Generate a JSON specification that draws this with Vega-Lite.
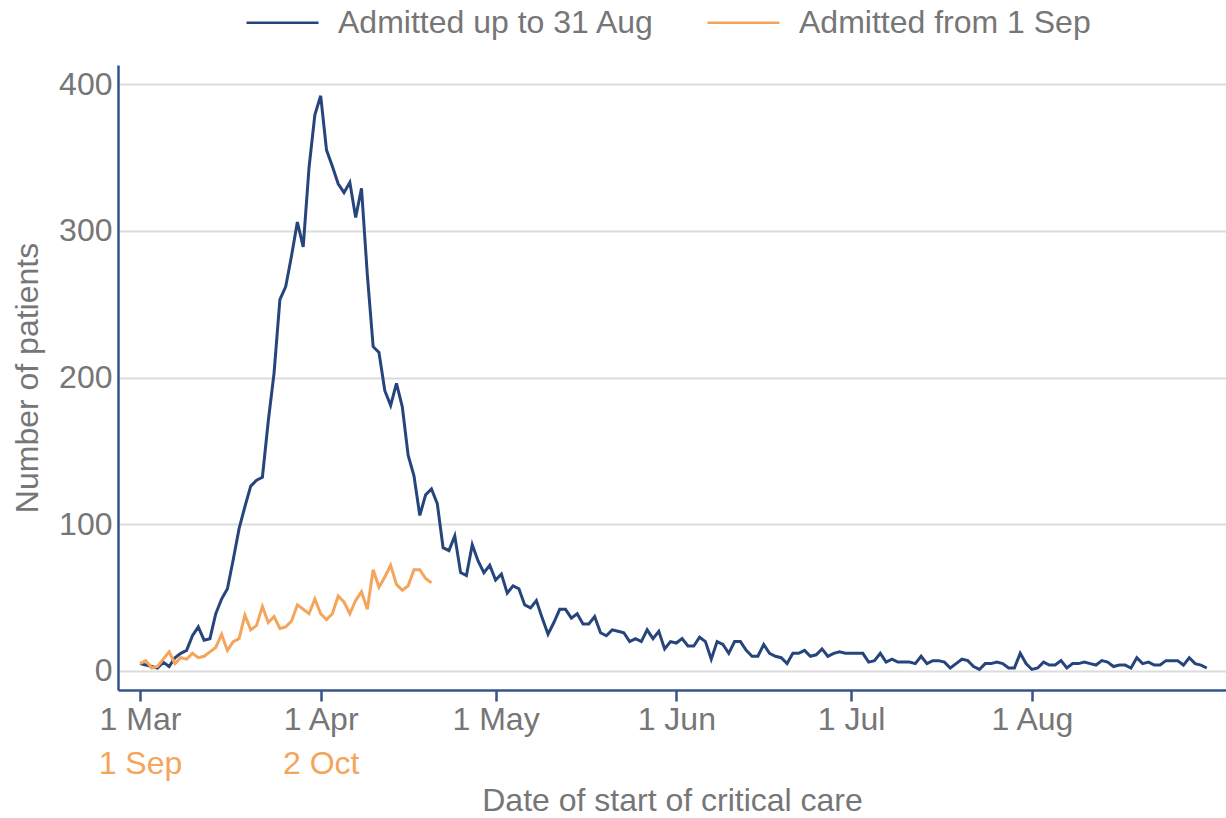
{
  "$schema": "https://vega.github.io/schema/vega-lite/v6.json",
  "description": "Daily critical care admissions, spring wave vs autumn wave",
  "autosize": "none",
  "width": 1108,
  "height": 625,
  "padding": {"left": 118, "top": 65, "right": 0, "bottom": 128},
  "background": "white",
  "config": {
    "font": "Liberation Sans",
    "view": {"stroke": null},
    "axis": {"labelFontSize": 32, "titleFontSize": 32, "labelColor": "#767676", "titleColor": "#767676", "titleFontWeight": "normal"}
  },
  "datasets": {
    "upTo31Aug": [
      {"day": 0, "patients": 5}, {"day": 1, "patients": 4}, {"day": 2, "patients": 3}, {"day": 3, "patients": 2}, {"day": 4, "patients": 6},
      {"day": 5, "patients": 3}, {"day": 6, "patients": 9}, {"day": 7, "patients": 12}, {"day": 8, "patients": 14}, {"day": 9, "patients": 24},
      {"day": 10, "patients": 30}, {"day": 11, "patients": 21}, {"day": 12, "patients": 22}, {"day": 13, "patients": 39}, {"day": 14, "patients": 49},
      {"day": 15, "patients": 56}, {"day": 16, "patients": 76}, {"day": 17, "patients": 97}, {"day": 18, "patients": 112}, {"day": 19, "patients": 126},
      {"day": 20, "patients": 130}, {"day": 21, "patients": 132}, {"day": 22, "patients": 170}, {"day": 23, "patients": 203}, {"day": 24, "patients": 253},
      {"day": 25, "patients": 262}, {"day": 26, "patients": 283}, {"day": 27, "patients": 306}, {"day": 28, "patients": 289}, {"day": 29, "patients": 343},
      {"day": 30, "patients": 379}, {"day": 31, "patients": 392}, {"day": 32, "patients": 355}, {"day": 33, "patients": 344}, {"day": 34, "patients": 332},
      {"day": 35, "patients": 326}, {"day": 36, "patients": 333}, {"day": 37, "patients": 309}, {"day": 38, "patients": 329}, {"day": 39, "patients": 270},
      {"day": 40, "patients": 221}, {"day": 41, "patients": 217}, {"day": 42, "patients": 191}, {"day": 43, "patients": 181}, {"day": 44, "patients": 196},
      {"day": 45, "patients": 180}, {"day": 46, "patients": 147}, {"day": 47, "patients": 133}, {"day": 48, "patients": 106}, {"day": 49, "patients": 120},
      {"day": 50, "patients": 124}, {"day": 51, "patients": 114}, {"day": 52, "patients": 84}, {"day": 53, "patients": 82}, {"day": 54, "patients": 92},
      {"day": 55, "patients": 67}, {"day": 56, "patients": 65}, {"day": 57, "patients": 86}, {"day": 58, "patients": 75}, {"day": 59, "patients": 67},
      {"day": 60, "patients": 72}, {"day": 61, "patients": 62}, {"day": 62, "patients": 66}, {"day": 63, "patients": 53}, {"day": 64, "patients": 58},
      {"day": 65, "patients": 56}, {"day": 66, "patients": 45}, {"day": 67, "patients": 43}, {"day": 68, "patients": 48}, {"day": 69, "patients": 36},
      {"day": 70, "patients": 25}, {"day": 71, "patients": 33}, {"day": 72, "patients": 42}, {"day": 73, "patients": 42}, {"day": 74, "patients": 36},
      {"day": 75, "patients": 39}, {"day": 76, "patients": 32}, {"day": 77, "patients": 32}, {"day": 78, "patients": 37}, {"day": 79, "patients": 26},
      {"day": 80, "patients": 24}, {"day": 81, "patients": 28}, {"day": 82, "patients": 27}, {"day": 83, "patients": 26}, {"day": 84, "patients": 20},
      {"day": 85, "patients": 22}, {"day": 86, "patients": 20}, {"day": 87, "patients": 28}, {"day": 88, "patients": 22}, {"day": 89, "patients": 27},
      {"day": 90, "patients": 15}, {"day": 91, "patients": 20}, {"day": 92, "patients": 19}, {"day": 93, "patients": 22}, {"day": 94, "patients": 17},
      {"day": 95, "patients": 17}, {"day": 96, "patients": 23}, {"day": 97, "patients": 20}, {"day": 98, "patients": 8}, {"day": 99, "patients": 20},
      {"day": 100, "patients": 18}, {"day": 101, "patients": 12}, {"day": 102, "patients": 20}, {"day": 103, "patients": 20}, {"day": 104, "patients": 14},
      {"day": 105, "patients": 10}, {"day": 106, "patients": 10}, {"day": 107, "patients": 18}, {"day": 108, "patients": 12}, {"day": 109, "patients": 10},
      {"day": 110, "patients": 9}, {"day": 111, "patients": 5}, {"day": 112, "patients": 12}, {"day": 113, "patients": 12}, {"day": 114, "patients": 14},
      {"day": 115, "patients": 10}, {"day": 116, "patients": 11}, {"day": 117, "patients": 15}, {"day": 118, "patients": 10}, {"day": 119, "patients": 12},
      {"day": 120, "patients": 13}, {"day": 121, "patients": 12}, {"day": 122, "patients": 12}, {"day": 123, "patients": 12}, {"day": 124, "patients": 12},
      {"day": 125, "patients": 6}, {"day": 126, "patients": 7}, {"day": 127, "patients": 12}, {"day": 128, "patients": 6}, {"day": 129, "patients": 8},
      {"day": 130, "patients": 6}, {"day": 131, "patients": 6}, {"day": 132, "patients": 6}, {"day": 133, "patients": 5}, {"day": 134, "patients": 10},
      {"day": 135, "patients": 5}, {"day": 136, "patients": 7}, {"day": 137, "patients": 7}, {"day": 138, "patients": 6}, {"day": 139, "patients": 2},
      {"day": 140, "patients": 5}, {"day": 141, "patients": 8}, {"day": 142, "patients": 7}, {"day": 143, "patients": 3}, {"day": 144, "patients": 1},
      {"day": 145, "patients": 5}, {"day": 146, "patients": 5}, {"day": 147, "patients": 6}, {"day": 148, "patients": 5}, {"day": 149, "patients": 2},
      {"day": 150, "patients": 2}, {"day": 151, "patients": 12}, {"day": 152, "patients": 5}, {"day": 153, "patients": 1}, {"day": 154, "patients": 2},
      {"day": 155, "patients": 6}, {"day": 156, "patients": 4}, {"day": 157, "patients": 4}, {"day": 158, "patients": 7}, {"day": 159, "patients": 2},
      {"day": 160, "patients": 5}, {"day": 161, "patients": 5}, {"day": 162, "patients": 6}, {"day": 163, "patients": 5}, {"day": 164, "patients": 4},
      {"day": 165, "patients": 7}, {"day": 166, "patients": 6}, {"day": 167, "patients": 3}, {"day": 168, "patients": 4}, {"day": 169, "patients": 4},
      {"day": 170, "patients": 2}, {"day": 171, "patients": 9}, {"day": 172, "patients": 5}, {"day": 173, "patients": 6}, {"day": 174, "patients": 4},
      {"day": 175, "patients": 4}, {"day": 176, "patients": 7}, {"day": 177, "patients": 7}, {"day": 178, "patients": 7}, {"day": 179, "patients": 4},
      {"day": 180, "patients": 9}, {"day": 181, "patients": 5}, {"day": 182, "patients": 4}, {"day": 183, "patients": 2}
    ],
    "from1Sep": [
      {"day": 0, "patients": 5}, {"day": 1, "patients": 7}, {"day": 2, "patients": 2}, {"day": 3, "patients": 3}, {"day": 4, "patients": 8},
      {"day": 5, "patients": 13}, {"day": 6, "patients": 5}, {"day": 7, "patients": 9}, {"day": 8, "patients": 8}, {"day": 9, "patients": 12},
      {"day": 10, "patients": 9}, {"day": 11, "patients": 10}, {"day": 12, "patients": 13}, {"day": 13, "patients": 16}, {"day": 14, "patients": 25},
      {"day": 15, "patients": 14}, {"day": 16, "patients": 20}, {"day": 17, "patients": 22}, {"day": 18, "patients": 38}, {"day": 19, "patients": 28},
      {"day": 20, "patients": 31}, {"day": 21, "patients": 44}, {"day": 22, "patients": 33}, {"day": 23, "patients": 37}, {"day": 24, "patients": 29},
      {"day": 25, "patients": 30}, {"day": 26, "patients": 34}, {"day": 27, "patients": 45}, {"day": 28, "patients": 42}, {"day": 29, "patients": 39},
      {"day": 30, "patients": 49}, {"day": 31, "patients": 39}, {"day": 32, "patients": 35}, {"day": 33, "patients": 39}, {"day": 34, "patients": 51},
      {"day": 35, "patients": 47}, {"day": 36, "patients": 39}, {"day": 37, "patients": 48}, {"day": 38, "patients": 54}, {"day": 39, "patients": 42},
      {"day": 40, "patients": 69}, {"day": 41, "patients": 57}, {"day": 42, "patients": 64}, {"day": 43, "patients": 72}, {"day": 44, "patients": 59},
      {"day": 45, "patients": 55}, {"day": 46, "patients": 58}, {"day": 47, "patients": 69}, {"day": 48, "patients": 69}, {"day": 49, "patients": 63},
      {"day": 50, "patients": 60}
    ]
  },
  "layer": [
    {
      "data": {"name": "upTo31Aug"},
      "mark": {"type": "line", "strokeWidth": 3},
      "encoding": {
        "x": {
          "field": "day",
          "type": "quantitative",
          "scale": {"domain": [-3.77, 186.3], "nice": false, "zero": false},
          "axis": {
            "orient": "bottom",
            "values": [0, 31, 61, 92, 122, 153],
            "labelExpr": "datum.value == 0 ? '1 Mar' : datum.value == 31 ? '1 Apr' : datum.value == 61 ? '1 May' : datum.value == 92 ? '1 Jun' : datum.value == 122 ? '1 Jul' : '1 Aug'",
            "grid": false,
            "domainColor": "#34538a",
            "domainWidth": 2.5,
            "tickColor": "#34538a",
            "tickWidth": 2.5,
            "tickSize": 11,
            "labelPadding": 3,
            "title": null
          }
        },
        "y": {
          "field": "patients",
          "type": "quantitative",
          "scale": {"domain": [-13, 413], "nice": false, "zero": false},
          "axis": {
            "title": "Number of patients",
            "values": [0, 100, 200, 300, 400],
            "grid": true,
            "gridColor": "#dcdcdc",
            "gridWidth": 2,
            "domainColor": "#34538a",
            "domainWidth": 2.5,
            "ticks": false,
            "labelPadding": 6,
            "titlePadding": 14
          }
        },
        "color": {
          "datum": "Admitted up to 31 Aug",
          "type": "nominal",
          "scale": {"domain": ["Admitted up to 31 Aug", "Admitted from 1 Sep"], "range": ["#27457d", "#f5a55a"]},
          "legend": {
            "title": null,
            "orient": "none",
            "legendX": 127,
            "legendY": -80,
            "padding": 0,
            "direction": "horizontal",
            "symbolType": "stroke",
            "symbolSize": 5184,
            "symbolStrokeWidth": 2.5,
            "labelFontSize": 32,
            "labelColor": "#767676",
            "labelLimit": 500,
            "labelOffset": 18,
            "columnPadding": 47
          }
        }
      }
    },
    {
      "data": {"name": "from1Sep"},
      "mark": {"type": "line", "strokeWidth": 3},
      "encoding": {
        "x": {
          "field": "day",
          "type": "quantitative",
          "scale": {"domain": [-3.77, 186.3], "nice": false, "zero": false},
          "axis": {
            "orient": "bottom",
            "values": [0, 31],
            "labelExpr": "datum.value == 0 ? '1 Sep' : '2 Oct'",
            "labelColor": "#f5a55a",
            "grid": false,
            "domain": false,
            "ticks": false,
            "tickSize": 0,
            "offset": 54,
            "labelPadding": 4,
            "title": "Date of start of critical care",
            "titlePadding": 6
          }
        },
        "y": {
          "field": "patients",
          "type": "quantitative",
          "scale": {"domain": [-13, 413], "nice": false, "zero": false},
          "axis": {
            "title": "Number of patients",
            "values": [0, 100, 200, 300, 400],
            "grid": true,
            "gridColor": "#dcdcdc",
            "gridWidth": 2,
            "domainColor": "#34538a",
            "domainWidth": 2.5,
            "ticks": false,
            "labelPadding": 6,
            "titlePadding": 14
          }
        },
        "color": {
          "datum": "Admitted from 1 Sep",
          "type": "nominal",
          "scale": {"domain": ["Admitted up to 31 Aug", "Admitted from 1 Sep"], "range": ["#27457d", "#f5a55a"]}
        }
      }
    }
  ],
  "resolve": {"scale": {"x": "independent"}}
}
